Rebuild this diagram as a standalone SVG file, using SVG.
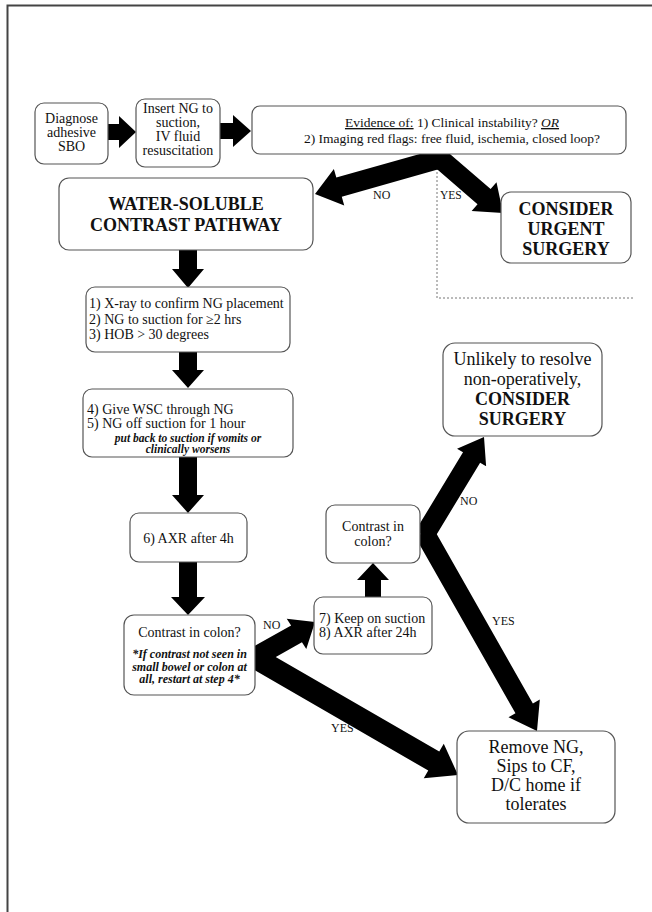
<svg xmlns="http://www.w3.org/2000/svg" width="652" height="912" viewBox="0 0 652 912">
<style>
.box{fill:#fff;stroke:#555;stroke-width:1.2}
.t{font-family:"Liberation Serif","Times New Roman",serif;font-size:14px;fill:#111}
.c{text-anchor:middle}
.b{font-weight:bold}
.bi{font-weight:bold;font-style:italic}
.lbl{font-family:"Liberation Serif","Times New Roman",serif;font-size:12px;fill:#111}
.arr{fill:#000}
</style>
<rect x="0" y="0" width="652" height="912" fill="#fff"/>
<path d="M7.5,912 V5.5 H652" fill="none" stroke="#444" stroke-width="2"/>
<path d="M437,156 V298 H633" fill="none" stroke="#777" stroke-width="1" stroke-dasharray="2,2"/>

<g id="connectors">
  <polygon class="arr" points="106,124 119,124 119,116 136,132 119,148 119,140 106,140"/>
  <polygon class="arr" points="218,123 233,123 233,115 251,131 233,147 233,139 218,139"/>
  <polygon class="arr" points="439.27,148.38 336.32,177.56 333.86,168.90 315,194 344.24,205.46 341.78,196.80 444.73,167.62"/>
  <polygon class="arr" points="430.46,163.57 477.53,204.22 471.64,211.03 503,213 496.5,182.27 490.61,189.08 443.54,148.43"/>
  <polygon class="arr" points="179,248 197,248 197,269 204,269 188,288 172,269 179,269"/>
  <polygon class="arr" points="179,350 197,350 197,370 204,370 188,388 172,370 179,370"/>
  <polygon class="arr" points="179,455 197,455 197,495 204,495 188,513 172,495 179,495"/>
  <polygon class="arr" points="179,560 197,560 197,597 205,597 188,615 171,597 179,597"/>
  <polygon class="arr" points="255.43,668.4 301.95,642.35 306.29,649.07 315,622 286.75,618.83 291.09,625.55 244.57,651.6"/>
  <polygon class="arr" points="246.5,665.53 428.25,770.53 423.75,778.32 458,775 443.75,743.68 439.25,751.47 257.5,646.47"/>
  <polygon class="arr" points="365,599 381,599 381,580 389,580 373,563 357,580 365,580"/>
  <polygon class="arr" points="432.55,541.18 480.12,462.70 486.11,466.33 484,437 457.03,448.71 463.02,452.34 415.45,530.82"/>
  <polygon class="arr" points="415.30,536.94 515.46,713.32 508.50,717.27 537,731 539.82,699.49 532.86,703.44 432.70,527.06"/>
  <text class="lbl" x="373" y="199">NO</text>
  <text class="lbl" x="440" y="199" style="font-size:11.5px">YES</text>
  <text class="lbl" x="263" y="629">NO</text>
  <text class="lbl" x="331" y="732">YES</text>
  <text class="lbl" x="460" y="505">NO</text>
  <text class="lbl" x="492" y="625">YES</text>
</g>

<g id="n1">
  <rect class="box" x="35" y="103" width="73" height="61" rx="9"/>
  <text class="t c" x="71.5" y="123">Diagnose</text>
  <text class="t c" x="71.5" y="137">adhesive</text>
  <text class="t c" x="71.5" y="151">SBO</text>
</g>
<g id="n2">
  <rect class="box" x="136" y="99" width="84" height="68" rx="9"/>
  <text class="t c" x="178" y="113">Insert NG to</text>
  <text class="t c" x="178" y="127">suction,</text>
  <text class="t c" x="178" y="141">IV fluid</text>
  <text class="t c" x="178" y="155">resuscitation</text>
</g>
<g id="n3">
  <rect class="box" x="252" y="106" width="374" height="48" rx="8"/>
  <text class="t c" x="452" y="127" style="font-size:13.5px"><tspan text-decoration="underline">Evidence of:</tspan> 1) Clinical instability? <tspan font-style="italic" text-decoration="underline">OR</tspan></text>
  <text class="t c" x="452" y="143" style="font-size:13.5px">2) Imaging red flags: free fluid, ischemia, closed loop?</text>
</g>
<g id="n4">
  <rect class="box" x="59" y="178" width="254" height="72" rx="10"/>
  <text class="t c b" x="186" y="210" style="font-size:18px">WATER-SOLUBLE</text>
  <text class="t c b" x="186" y="231" style="font-size:18px">CONTRAST PATHWAY</text>
</g>
<g id="n5">
  <rect class="box" x="501" y="192" width="130" height="71" rx="10"/>
  <text class="t c b" x="566" y="215" style="font-size:18px">CONSIDER</text>
  <text class="t c b" x="566" y="235" style="font-size:18px">URGENT</text>
  <text class="t c b" x="566" y="255" style="font-size:18px">SURGERY</text>
</g>
<g id="n6">
  <rect class="box" x="86" y="287" width="204" height="65" rx="9"/>
  <text class="t" x="89" y="308">1) X-ray to confirm NG placement</text>
  <text class="t" x="89" y="324">2) NG to suction for ≥2 hrs</text>
  <text class="t" x="89" y="339">3) HOB &gt; 30 degrees</text>
</g>
<g id="n7">
  <rect class="box" x="83" y="389" width="210" height="68" rx="9"/>
  <text class="t" x="87" y="414">4) Give WSC through NG</text>
  <text class="t" x="87" y="428">5) NG off suction for 1 hour</text>
  <text class="t c bi" x="188" y="442" style="font-size:11.5px">put back to suction if vomits or</text>
  <text class="t c bi" x="188" y="453" style="font-size:11.5px">clinically worsens</text>
</g>
<g id="n8">
  <rect class="box" x="130" y="513" width="117" height="49" rx="9"/>
  <text class="t c" x="188.5" y="543">6) AXR after 4h</text>
</g>
<g id="n9">
  <rect class="box" x="124" y="615" width="131" height="80" rx="10"/>
  <text class="t c" x="189.5" y="637">Contrast in colon?</text>
  <text class="t c bi" x="189.5" y="658" style="font-size:12px">*If contrast not seen in</text>
  <text class="t c bi" x="189.5" y="670.5" style="font-size:12px">small bowel or colon at</text>
  <text class="t c bi" x="189.5" y="683" style="font-size:12px">all, restart at step 4*</text>
</g>
<g id="n10">
  <rect class="box" x="314" y="597" width="118" height="57" rx="9"/>
  <text class="t" x="319" y="623">7) Keep on suction</text>
  <text class="t" x="319" y="637">8) AXR after 24h</text>
</g>
<g id="n11">
  <rect class="box" x="326" y="505" width="94" height="58" rx="9"/>
  <text class="t c" x="373" y="531">Contrast in</text>
  <text class="t c" x="373" y="546">colon?</text>
</g>
<g id="n12">
  <rect class="box" x="443" y="343" width="159" height="93" rx="12"/>
  <text class="t c" x="522.5" y="365" style="font-size:18px">Unlikely to resolve</text>
  <text class="t c" x="522.5" y="385" style="font-size:18px">non-operatively,</text>
  <text class="t c b" x="522.5" y="405" style="font-size:18px">CONSIDER</text>
  <text class="t c b" x="522.5" y="425" style="font-size:18px">SURGERY</text>
</g>
<g id="n13">
  <rect class="box" x="457" y="731" width="158" height="92" rx="12"/>
  <text class="t c" x="536" y="753" style="font-size:18px">Remove NG,</text>
  <text class="t c" x="536" y="772" style="font-size:18px">Sips to CF,</text>
  <text class="t c" x="536" y="791" style="font-size:18px">D/C home if</text>
  <text class="t c" x="536" y="810" style="font-size:18px">tolerates</text>
</g>
</svg>
